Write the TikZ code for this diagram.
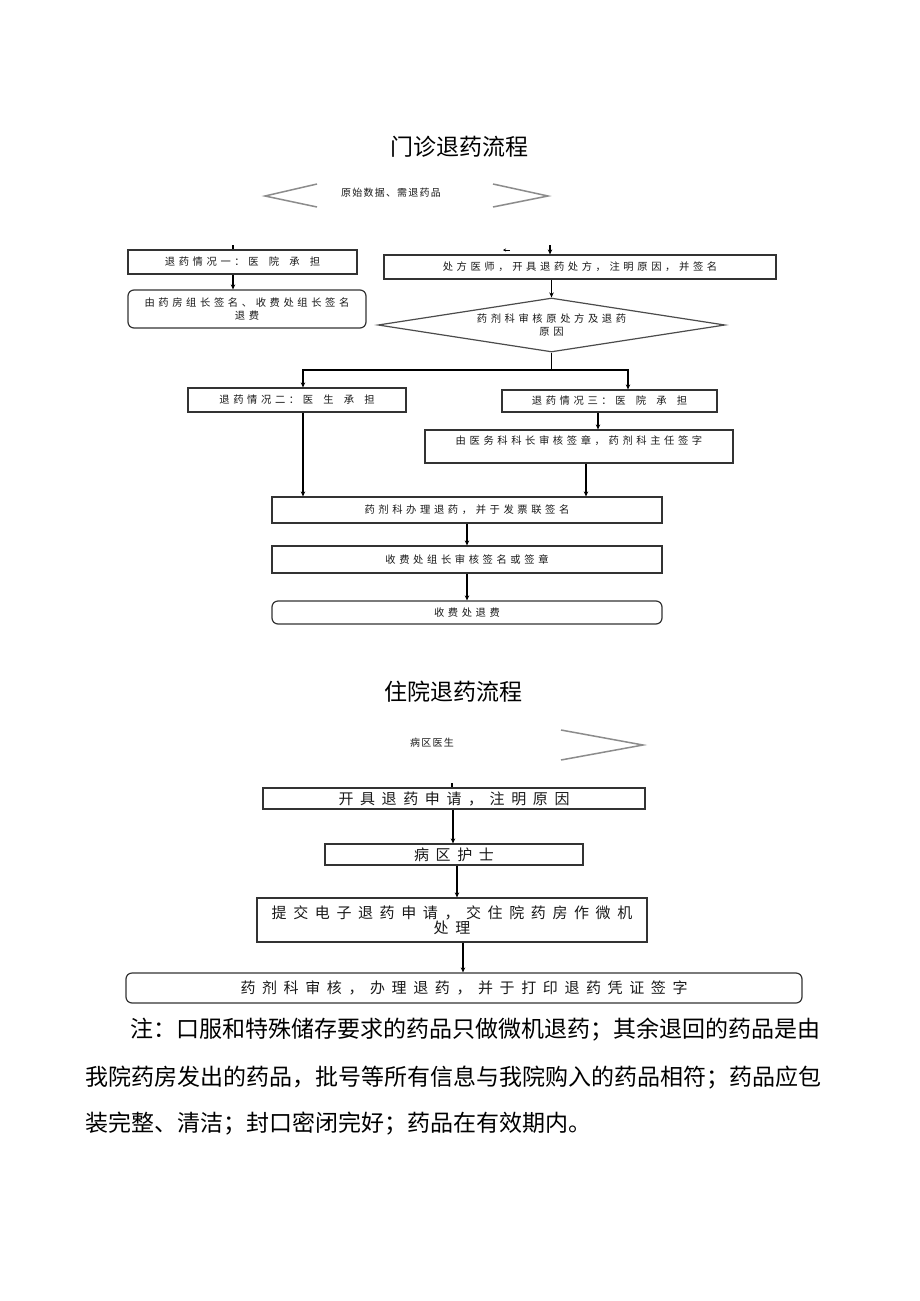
\documentclass[tikz,border=0pt]{standalone}
\usepackage{fontspec}
\newfontfamily\cjk{Noto Sans CJK SC}
\usetikzlibrary{shapes.geometric,arrows.meta}
\newlength\lsp
\def\spc#1{\spcFirst#1\relax}
\def\spcFirst#1{#1\spcA}
\def\spcA#1{\ifx\relax#1\else\hskip\lsp#1\expandafter\spcA\fi}
\newcommand\gp{\hskip3pt\relax}
\tikzset{
  smallfont/.style={font={\cjk\fontsize{10.3}{13}\selectfont\setlength\lsp{3.6pt}}},
  bigfont/.style={font={\cjk\fontsize{15}{13.5}\selectfont\setlength\lsp{6.6pt}}},
  box/.style={draw=black!80, line width=1.2pt, rectangle, inner sep=0pt, text=black!90, smallfont},
  bbox/.style={box, bigfont},
  rbox/.style={box, rounded corners=6pt},
  titletext/.style={inner sep=0pt, font={\cjk\fontsize{23}{23}\selectfont}},
  notetext/.style={inner sep=0pt, anchor=west, font={\cjk\fontsize{23}{23}\selectfont}},
  plaintext/.style={inner sep=0pt, text=black!90, font={\cjk\fontsize{10}{12}\selectfont\setlength\lsp{1.2pt}}},
  conn/.style={line width=1.3pt, draw=black},
  arr/.style={conn, -{Stealth[length=5pt,width=4.5pt]}},
  tinyarr/.style={conn, line width=1pt, -{Stealth[length=3pt,width=3pt]}},
  chev/.style={draw=black!45, line width=1.5pt},
}
\begin{document}
\begin{tikzpicture}[x=1pt,y=-1pt]
\useasboundingbox[fill=white] (0,0) rectangle (920,1301);

% ---------- section 1 ----------
\node[titletext] (t1) at (459,147) {门诊退药流程};
\draw[chev] (317,184) -- (265,196) -- (317,207);
\draw[chev] (493,184) -- (548,196) -- (493,207);
\node[plaintext] (src) at (391,193) {\spc{原始数据、需退药品}};

\node[box, minimum width=229, minimum height=24] (b1) at (242.5,262) {\spc{退药情况一：医\gp 院\gp 承\gp 担}};
\node[rbox, minimum width=238, minimum height=38, align=center] (b2) at (247,309) {\spc{由药房组长签名、收费处组长签名}\\\spc{退费}};
\node[box, minimum width=392, minimum height=24] (b3) at (580,267) {\spc{处方医师，开具退药处方，注明原因，并签名}};
\node[draw=black!70, line width=1.2pt, diamond, aspect=6.4, inner sep=0pt, minimum width=347, minimum height=54, align=center, text=black!90, smallfont] (d) at (551.5,325) {\spc{药剂科审核原处方及退药}\\\spc{原因}};

\node[box, minimum width=218, minimum height=24] (b4) at (297,400) {\spc{退药情况二：医\gp 生\gp 承\gp 担}};
\node[box, minimum width=215, minimum height=22] (b5) at (609.5,401) {\spc{退药情况三：医\gp 院\gp 承\gp 担}};
\node[box, minimum width=308, minimum height=33, align=center] (b6) at (579,446.5) {\spc{由医务科科长审核签章，药剂科主任签字}\\\mbox{}};
\node[box, minimum width=390, minimum height=26] (b7) at (467,510) {\spc{药剂科办理退药，并于发票联签名}};
\node[box, minimum width=390, minimum height=27] (b8) at (467,559.5) {\spc{收费处组长审核签名或签章}};
\node[rbox, minimum width=390, minimum height=23] (b9) at (467,612.5) {\spc{收费处退费}};

\coordinate (s1) at (233,245);
\draw[conn] (s1) -- (s1 |- b1.north);
\draw[arr] (s1 |- b1.south) -- (s1 |- b2.north);
\coordinate (s2) at (550,245);
\draw[arr] (s2) -- (s2 |- b3.north);
\coordinate (s3a) at (510,250);
\coordinate (s3b) at (503,250);
\draw[tinyarr] (s3a) -- (s3b);
\draw[arr] (d.north |- b3.south) -- (d.north);
\coordinate (L) at (303,370);
\coordinate (R) at (628,370);
\draw[conn] (d.south) -- (d.south |- L);
\draw[arr] (d.south |- L) -- (L) -- (L |- b4.north);
\draw[arr] (d.south |- L) -- (R) -- (R |- b5.north);
\coordinate (c5) at (598,0);
\draw[arr] (c5 |- b5.south) -- (c5 |- b6.north);
\draw[arr] (L |- b4.south) -- (L |- b7.north);
\coordinate (c6) at (586,0);
\draw[arr] (c6 |- b6.south) -- (c6 |- b7.north);
\draw[arr] (b7.south) -- (b8.north);
\draw[arr] (b8.south) -- (b9.north);

% ---------- section 2 ----------
\node[titletext] (t2) at (453,692) {住院退药流程};
\node[plaintext] (doc) at (432,743) {\spc{病区医生}};
\draw[chev] (561,730) -- (643,745) -- (561,760);

\node[bbox, minimum width=382, minimum height=21] (e1) at (454,798.5) {\spc{开具退药申请，注明原因}};
\node[bbox, minimum width=258, minimum height=21] (e2) at (454,854.5) {\spc{病区护士}};
\node[bbox, minimum width=390, minimum height=44, align=center] (e3) at (452,920) {\spc{提交电子退药申请，交住院药房作微机}\\\spc{处理}};
\node[bbox, rounded corners=6pt, minimum width=676, minimum height=30] (e4) at (464,988) {\spc{药剂科审核，办理退药，并于打印退药凭证签字}};

\coordinate (s4) at (452,783);
\draw[conn] (s4) -- (s4 |- e1.north);
\coordinate (c7) at (453,0);
\draw[arr] (c7 |- e1.south) -- (c7 |- e2.north);
\coordinate (c8) at (457,0);
\draw[arr] (c8 |- e2.south) -- (c8 |- e3.north);
\coordinate (c9) at (463,0);
\draw[arr] (c9 |- e3.south) -- (c9 |- e4.north);

% ---------- note ----------
\node[notetext] (n1) at (130,1030) {注：口服和特殊储存要求的药品只做微机退药；其余退回的药品是由};
\node[notetext] (n2) at (85,1078) {我院药房发出的药品，批号等所有信息与我院购入的药品相符；药品应包};
\node[notetext] (n3) at (85,1124) {装完整、清洁；封口密闭完好；药品在有效期内。};
\end{tikzpicture}
\end{document}
